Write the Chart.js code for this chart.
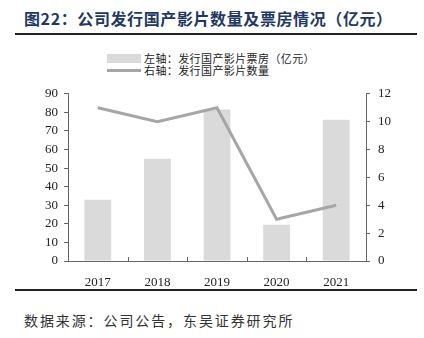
<!DOCTYPE html>
<html>
<head>
<meta charset="utf-8">
<script src="https://cdn.jsdelivr.net/npm/chart.js@4/dist/chart.umd.min.js"></script>
<style>
  body { margin: 0; width: 424px; height: 338px; background: #fff; position: relative; overflow: hidden; font-family: "Noto Sans CJK SC", sans-serif; }
  #title { position: absolute; left: 24px; top: 6px; font-size: 16px; font-weight: bold; color: #1f3864; letter-spacing: 0.6px; white-space: nowrap; }
  .rule { position: absolute; left: 15px; width: 402px; height: 2px; background: #222; }
  #legend { position: absolute; left: 107px; top: 52px; font-size: 11px; color: #222; line-height: 12px; }
  #legend div { display: flex; align-items: center; white-space: nowrap; letter-spacing: 0.4px; }
  #legend span.sw { display: inline-block; width: 34px; margin-right: 3px; }
  #source { position: absolute; left: 24px; top: 310px; font-size: 14px; color: #333; letter-spacing: 1.9px; white-space: nowrap; }
  #wrap { position: absolute; left: 0; top: 78px; width: 424px; height: 212px; }
</style>
</head>
<body>
<div id="title">图22：公司发行国产影片数量及票房情况（亿元）</div>
<div class="rule" style="top:33px"></div>
<div id="legend"></div>
<div id="wrap"><canvas id="chart"></canvas></div>
<div class="rule" style="top:289px"></div>
<div id="source">数据来源：公司公告，东吴证券研究所</div>
<script>
const years = ['2017', '2018', '2019', '2020', '2021'];
const boxOffice = [33, 55, 81.5, 19.5, 76];
const filmCount = [11, 10, 11, 3, 4];
const boxLabel = '左轴：发行国产影片票房（亿元）';
const countLabel = '右轴：发行国产影片数量';

const barColor = '#dadada';
const lineColor = '#a6a6a6';
const axisColor = '#666';
const tickFont = { family: '"Liberation Serif", "Times New Roman", serif', size: 13 };

// small inward ticks between categories on the x axis
const xTicks = {
  id: 'xTicks',
  afterDraw(chart) {
    const x = chart.scales.x;
    const ctx = chart.ctx;
    ctx.save();
    ctx.strokeStyle = axisColor;
    ctx.lineWidth = 1;
    for (let i = 0; i <= years.length; i++) {
      const px = Math.round(x.left + i * (x.width / years.length)) + 0.5;
      ctx.beginPath();
      ctx.moveTo(px, x.top);
      ctx.lineTo(px, x.top - 4);
      ctx.stroke();
    }
    ctx.restore();
  }
};

const chart = new Chart(document.getElementById('chart'), {
  data: {
    labels: years,
    datasets: [
      {
        type: 'line', label: countLabel, data: filmCount, yAxisID: 'y1',
        borderColor: lineColor, backgroundColor: lineColor, borderWidth: 3,
        pointRadius: 0, tension: 0, order: 0
      },
      {
        type: 'bar', label: boxLabel, data: boxOffice, yAxisID: 'y',
        backgroundColor: barColor, barPercentage: 0.45, categoryPercentage: 1, order: 1
      }
    ]
  },
  options: {
    responsive: true,
    maintainAspectRatio: false,
    animation: false,
    layout: { padding: { top: 6, left: 0, right: 0, bottom: 0 } },
    plugins: { legend: { display: false }, tooltip: { enabled: false } },
    scales: {
      x: {
        offset: true,
        grid: { display: false },
        border: { color: axisColor },
        ticks: { color: '#222', font: tickFont, padding: 6 },
        afterFit: s => { s.height = 29; }
      },
      y: {
        position: 'left', min: 0, max: 90,
        ticks: { stepSize: 10, autoSkip: false, color: '#222', font: tickFont, padding: 6 },
        grid: { drawOnChartArea: false, tickLength: 4, color: axisColor },
        border: { color: axisColor },
        afterFit: s => { s.width = 68; }
      },
      y1: {
        position: 'right', min: 0, max: 12,
        ticks: { stepSize: 2, autoSkip: false, color: '#222', font: tickFont, padding: 8 },
        grid: { drawOnChartArea: false, tickLength: 4, color: axisColor },
        border: { color: axisColor },
        afterFit: s => { s.width = 58; }
      }
    }
  },
  plugins: [xTicks]
});

// legend built from the datasets
const legend = document.getElementById('legend');
[chart.data.datasets[1], chart.data.datasets[0]].forEach(ds => {
  const row = document.createElement('div');
  const sw = document.createElement('span');
  sw.className = 'sw';
  if (ds.type === 'bar') {
    sw.style.height = '9px';
    sw.style.background = ds.backgroundColor;
  } else {
    sw.style.height = '3px';
    sw.style.background = ds.borderColor;
  }
  row.appendChild(sw);
  row.appendChild(document.createTextNode(ds.label));
  legend.appendChild(row);
});
</script>
</body>
</html>
